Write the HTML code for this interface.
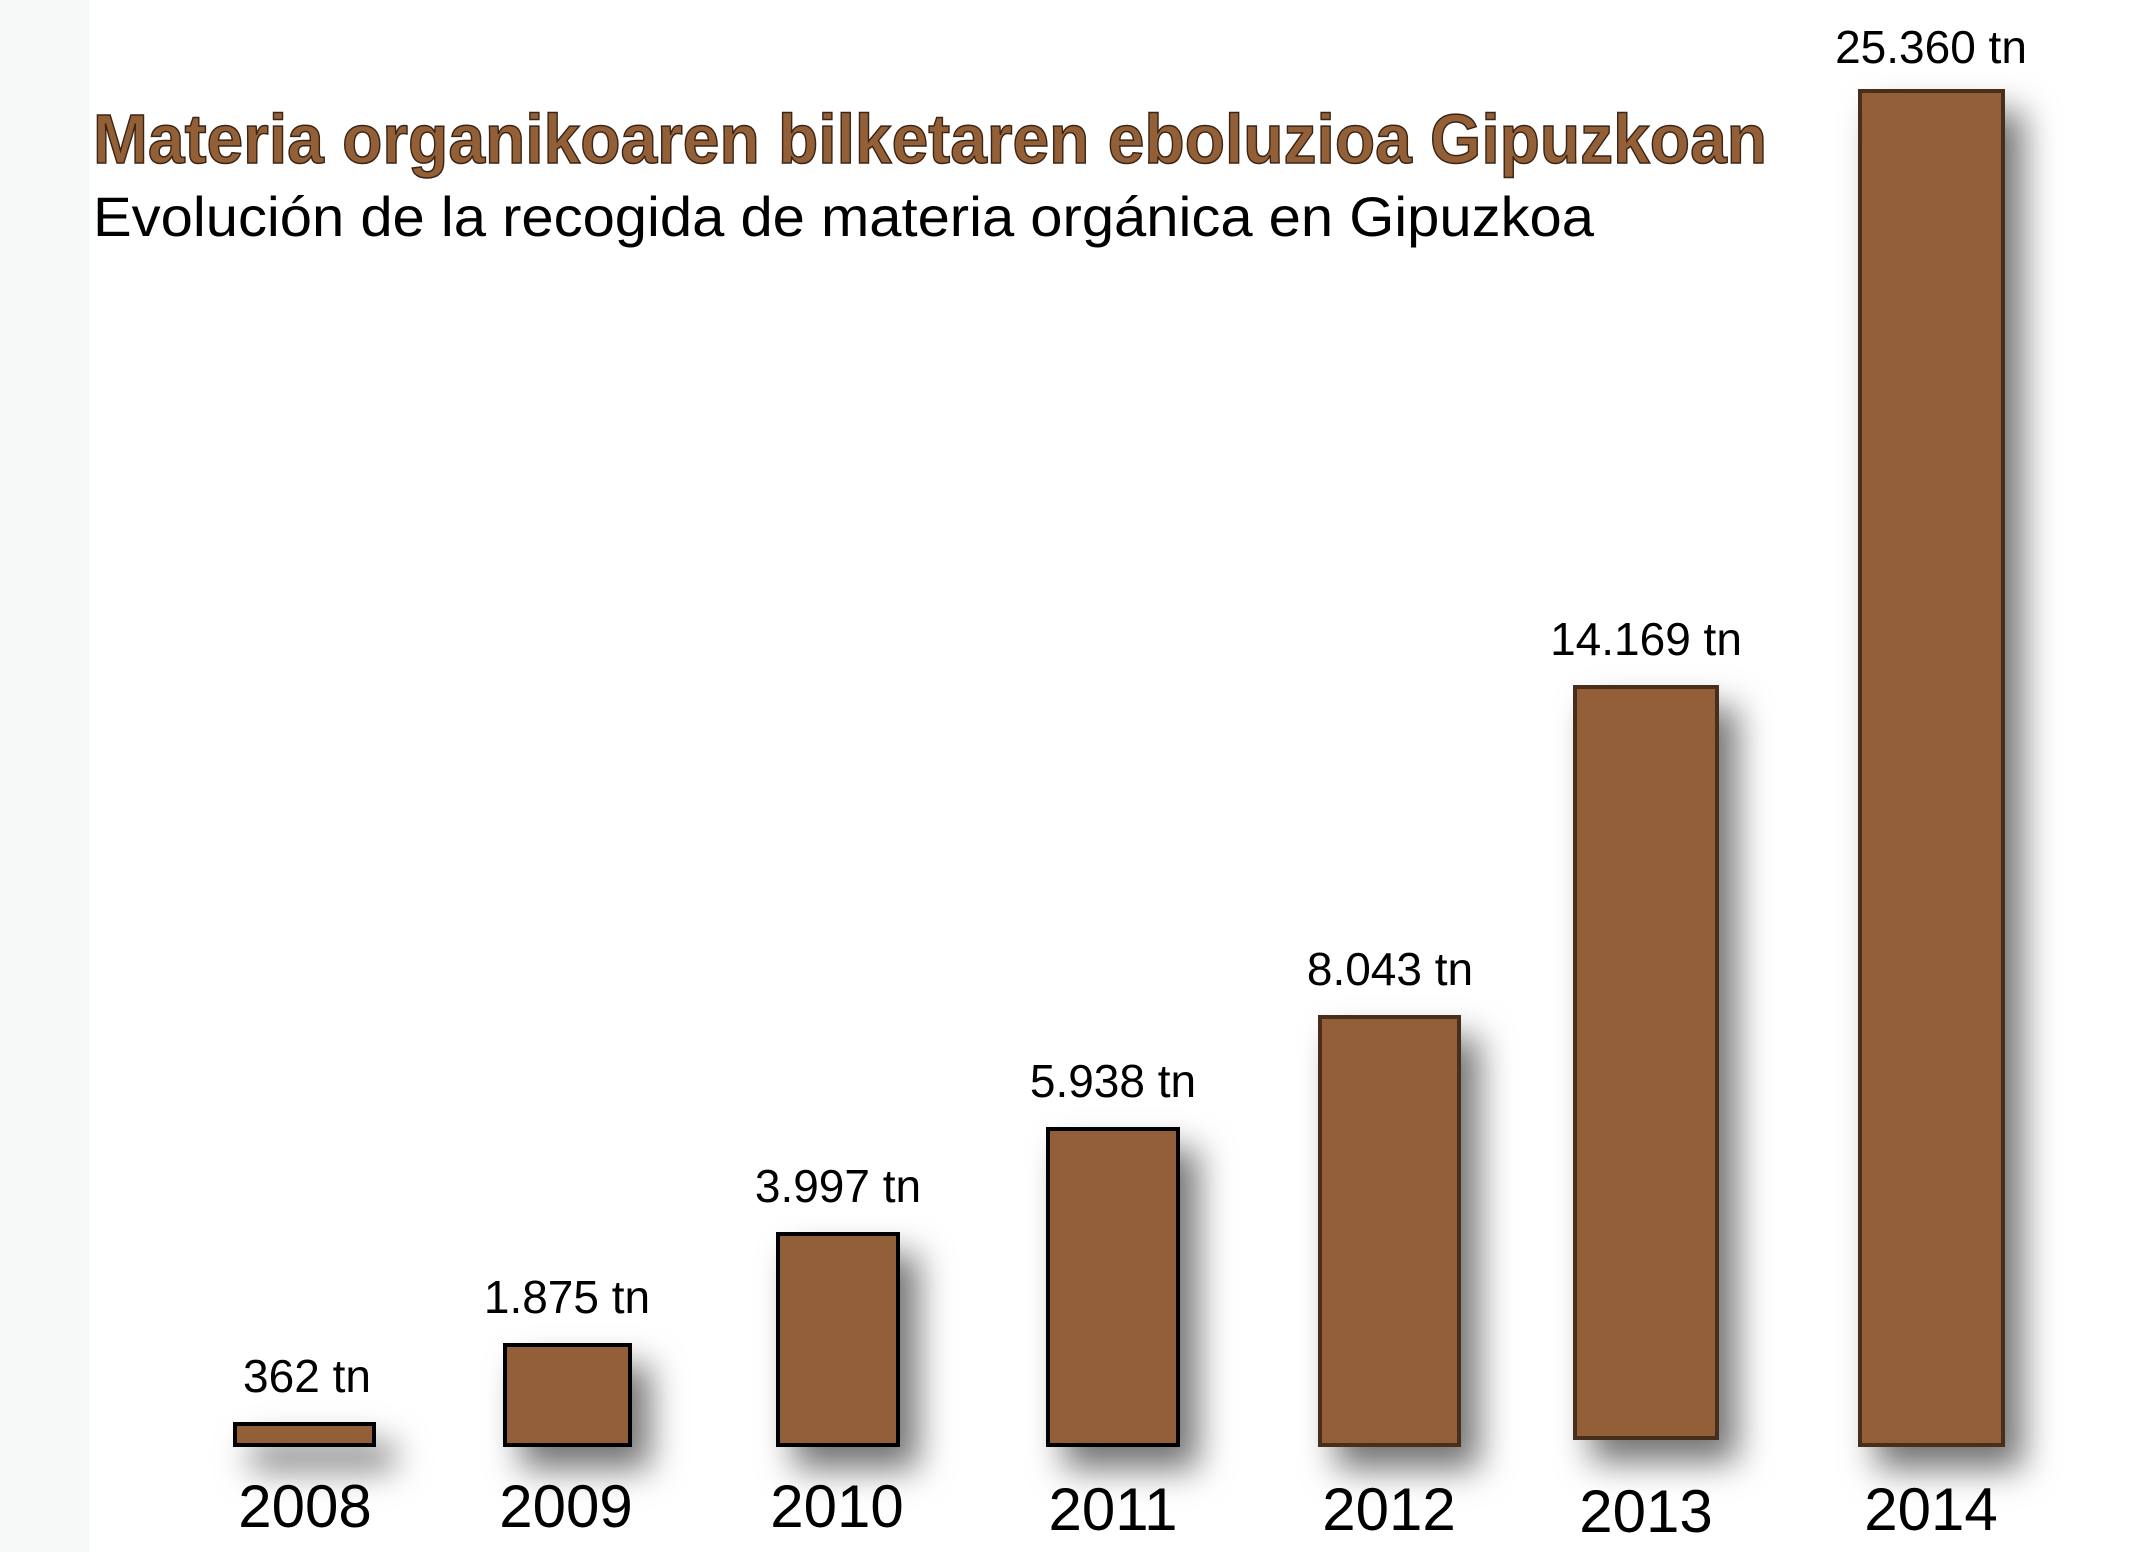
<!DOCTYPE html>
<html><head><meta charset="utf-8"><style>
html,body{margin:0;padding:0;background:#fff}
svg{display:block}
text{font-family:"Liberation Sans",sans-serif}
</style></head><body>
<svg width="2136" height="1552" viewBox="0 0 2136 1552" xmlns="http://www.w3.org/2000/svg">
<defs>
<filter id="sh" x="-60%" y="-20%" width="220%" height="160%">
<feDropShadow dx="18" dy="22" stdDeviation="17" flood-color="#000" flood-opacity="0.55"/>
</filter>
</defs>
<rect x="0" y="0" width="89" height="1552" fill="#f7f9f8"/>
<text x="93" y="163" font-size="70" font-weight="bold" fill="#925f37" stroke="#3a2416" stroke-width="1.5" textLength="1674" lengthAdjust="spacingAndGlyphs">Materia organikoaren bilketaren eboluzioa Gipuzkoan</text>
<text x="93" y="236" font-size="56" fill="#000" textLength="1501" lengthAdjust="spacingAndGlyphs">Evolución de la recogida de materia orgánica en Gipuzkoa</text>
<g fill="#925f37" stroke-width="4" filter="url(#sh)">
<rect x="235" y="1424" width="139" height="21" stroke="#000"/>
<rect x="505" y="1345" width="125" height="100" stroke="#000"/>
<rect x="778" y="1234" width="120" height="211" stroke="#000"/>
<rect x="1048" y="1129" width="130" height="316" stroke="#000"/>
<rect x="1320" y="1017" width="139" height="428" stroke="#4a2d1e"/>
<rect x="1575" y="687" width="142" height="751" stroke="#4a2d1e"/>
<rect x="1860" y="91" width="143" height="1354" stroke="#4a2d1e"/>
</g>
<g font-size="46" fill="#000" text-anchor="middle">
<text x="307" y="1392">362 tn</text>
<text x="567" y="1313">1.875 tn</text>
<text x="838" y="1202">3.997 tn</text>
<text x="1113" y="1097">5.938 tn</text>
<text x="1390" y="985">8.043 tn</text>
<text x="1646" y="655">14.169 tn</text>
<text x="1931" y="63">25.360 tn</text>
</g>
<g font-size="60" fill="#000" text-anchor="middle">
<text x="305" y="1527">2008</text>
<text x="566" y="1527">2009</text>
<text x="837" y="1527">2010</text>
<text x="1113" y="1530">2011</text>
<text x="1389" y="1530">2012</text>
<text x="1646" y="1532">2013</text>
<text x="1931" y="1530">2014</text>
</g>
</svg>
</body></html>
